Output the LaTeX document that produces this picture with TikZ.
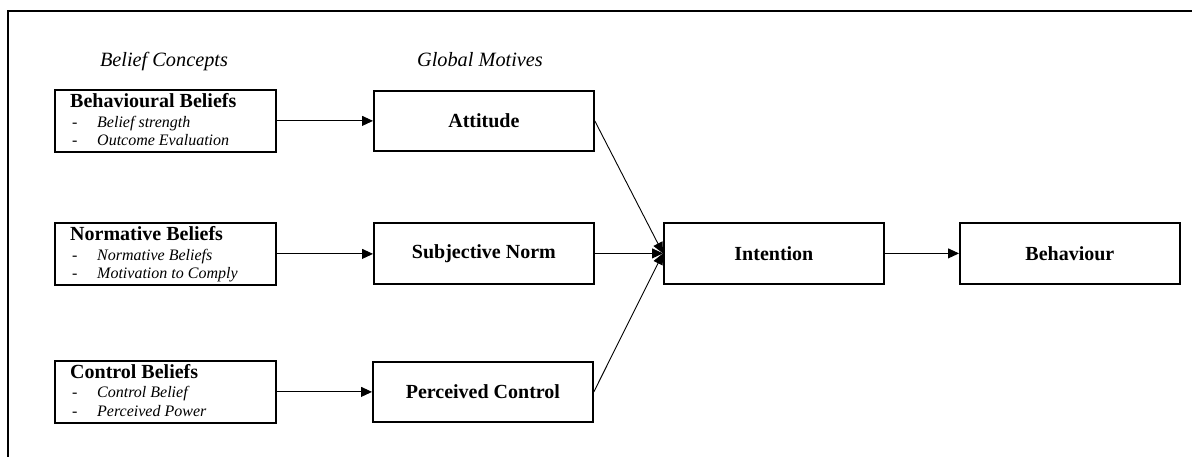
\documentclass[tikz,border=0pt]{standalone}
\usepackage{fontspec}
\setmainfont{Liberation Serif}
\usetikzlibrary{arrows.meta,calc}
\begin{document}
\begin{tikzpicture}[x=1pt,y=-1pt,
  frameline/.style={line width=2pt},
  box/.style={draw, line width=1.8pt, minimum width=220pt, minimum height=61pt,
    inner sep=0pt, anchor=north west},
  boxlabel/.style={font=\fontsize{20}{24}\selectfont\bfseries},
  heading/.style={anchor=base, inner sep=0pt, font=\fontsize{20.3}{24}\selectfont\itshape},
  btitle/.style={anchor=base west, inner sep=0pt, font=\fontsize{20}{24}\selectfont\bfseries},
  bdash/.style={anchor=base west, inner sep=0pt, font=\fontsize{16}{19}\selectfont},
  bitem/.style={anchor=base west, inner sep=0pt, font=\fontsize{16}{19}\selectfont\itshape},
  link/.style={line width=0.9pt, -{Triangle[length=11pt, width=10pt]}}
]
\useasboundingbox (0,0) rectangle (1192,457);

% open frame: top and left edges
\draw[frameline] (8,457) -- (8,11) -- (1192,11);

% column headings
\node[heading] (hbc) at (164,67) {Belief Concepts};
\node[heading] (hgm) at (480,67) {Global Motives};

% belief concept boxes
\node[box, minimum width=221pt, minimum height=62pt] (bb) at (54,89) {};
\node[btitle] (bbT) at ($(bb.north west)+(16,19)$) {Behavioural Beliefs};
\node[bdash] (bbD1) at ($(bb.north west)+(18,38.5)$) {-};
\node[bitem] (bbI1) at ($(bb.north west)+(43,38.5)$) {Belief strength};
\node[bdash] (bbD2) at ($(bb.north west)+(18,57)$) {-};
\node[bitem] (bbI2) at ($(bb.north west)+(43,57)$) {Outcome Evaluation};

\node[box, minimum width=221pt, minimum height=62pt] (nb) at (54,222) {};
\node[btitle] (nbT) at ($(nb.north west)+(16,19)$) {Normative Beliefs};
\node[bdash] (nbD1) at ($(nb.north west)+(18,38.5)$) {-};
\node[bitem] (nbI1) at ($(nb.north west)+(43,38.5)$) {Normative Beliefs};
\node[bdash] (nbD2) at ($(nb.north west)+(18,57)$) {-};
\node[bitem] (nbI2) at ($(nb.north west)+(43,57)$) {Motivation to Comply};

\node[box, minimum width=221pt, minimum height=62pt] (cb) at (54,360) {};
\node[btitle] (cbT) at ($(cb.north west)+(16,18.5)$) {Control Beliefs};
\node[bdash] (cbD1) at ($(cb.north west)+(18,37.5)$) {-};
\node[bitem] (cbI1) at ($(cb.north west)+(43,37.5)$) {Control Belief};
\node[bdash] (cbD2) at ($(cb.north west)+(18,56)$) {-};
\node[bitem] (cbI2) at ($(cb.north west)+(43,56)$) {Perceived Power};

% global motives
\node[box, minimum height=60pt] (att) at (373,90) {};
\node[boxlabel] (attL) at (att.center) {Attitude};
\node[box] (sn) at (373,222) {};
\node[boxlabel] (snL) at (sn.center) {Subjective Norm};
\node[box, minimum height=60pt] (pc) at (372,361) {};
\node[boxlabel] (pcL) at (pc.center) {Perceived Control};

% intention and behaviour
\node[box] (int) at (663,222) {};
\node[boxlabel] (intL) at (int.center) {Intention};
\node[box] (beh) at (959,222) {};
\node[boxlabel] (behL) at (beh.center) {Behaviour};

% connectors
\draw[link] (bb.east) -- (bb.east -| att.west);
\draw[link] (nb.east) -- (nb.east -| sn.west);
\draw[link] (cb.east) -- (cb.east -| pc.west);
\draw[link] (att.east) -- (int.west);
\draw[link] (sn.east) -- (int.west);
\draw[link] (pc.east) -- (int.west);
\draw[link] (int.east) -- (beh.west);
\end{tikzpicture}
\end{document}
